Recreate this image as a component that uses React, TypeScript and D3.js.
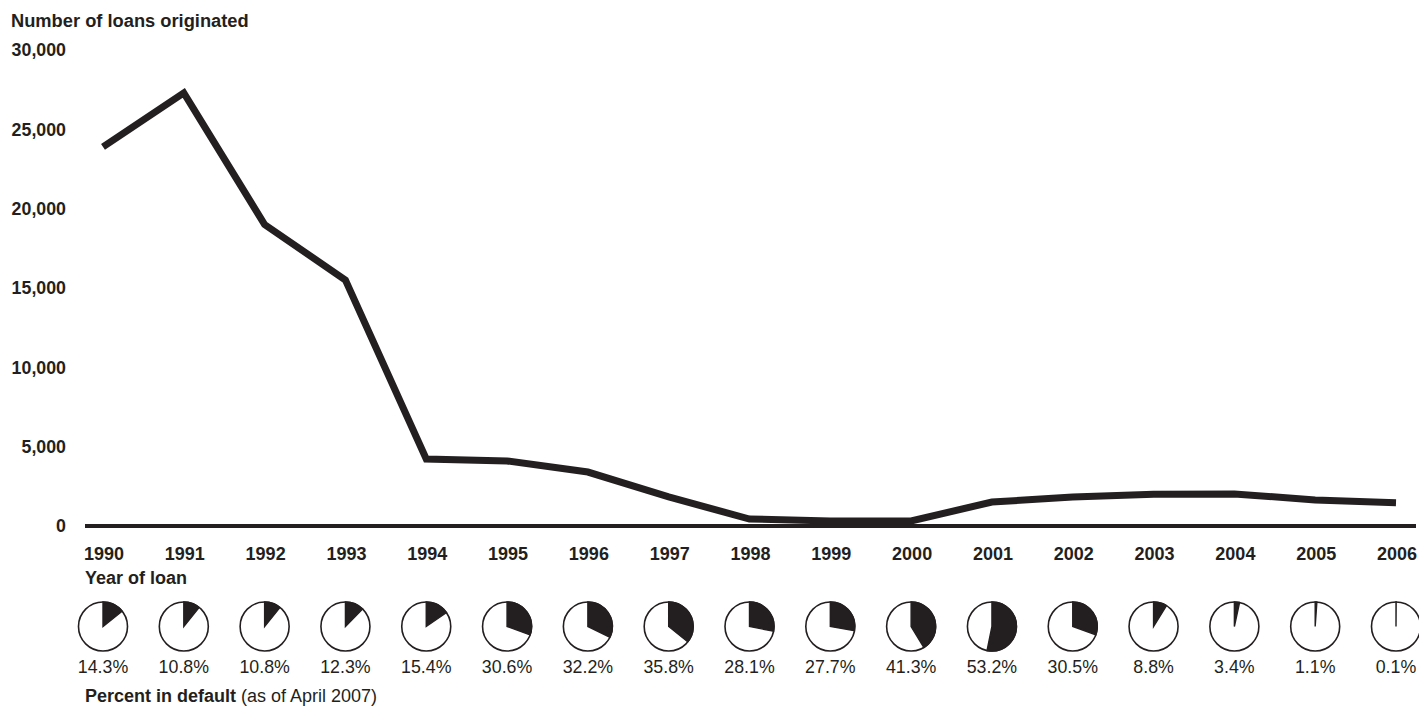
import React from "react";
import * as d3 from "d3";

const years = ["1990","1991","1992","1993","1994","1995","1996","1997","1998","1999","2000","2001","2002","2003","2004","2005","2006"];
const loans = [23900, 27300, 19000, 15500, 4220, 4100, 3400, 1830, 440, 320, 320, 1510, 1830, 2000, 2020, 1640, 1470];
const defaultPct = [14.3, 10.8, 10.8, 12.3, 15.4, 30.6, 32.2, 35.8, 28.1, 27.7, 41.3, 53.2, 30.5, 8.8, 3.4, 1.1, 0.1];
const yTicks = [0, 5000, 10000, 15000, 20000, 25000, 30000];

const INK = "#231f20";
const FONT = "'Liberation Sans', Arial, Helvetica, sans-serif";

export default function App() {
  const W = 1419, H = 707;
  const x = d3.scalePoint<string>().domain(years).range([103, 1396]);
  const y = d3.scaleLinear().domain([0, 30000]).range([526, 50]);
  const line = d3.line<number>().x((_, i) => x(years[i])!).y(d => y(d));
  const fmt = d3.format(",");
  const R = 24.5;
  const pieY = 626.5;
  const arc = d3.arc<any>().innerRadius(0).outerRadius(R);

  return (
    <svg width={W} height={H} style={{ position: "absolute", left: 0, top: 0, background: "#fff" }} fontFamily={FONT}>
      <text x={11} y={27} fontSize={18.3} fontWeight="bold" fill={INK}>Number of loans originated</text>
      {yTicks.map(t => (
        <text key={t} x={66} y={y(t) + 6.3} textAnchor="end" fontSize={17.8} fontWeight="bold" fill={INK}>{fmt(t)}</text>
      ))}
      <line x1={85} x2={1416} y1={y(0)} y2={y(0)} stroke={INK} strokeWidth={4} />
      <path d={line(loans)!} fill="none" stroke={INK} strokeWidth={7} strokeLinejoin="miter" />
      {years.map(yr => (
        <text key={yr} x={x(yr)! + 1} y={560} textAnchor="middle" fontSize={18} fontWeight="bold" fill={INK}>{yr}</text>
      ))}
      <text x={85} y={584} fontSize={18} fontWeight="bold" fill={INK}>Year of loan</text>
      {years.map((yr, i) => (
        <g key={yr} transform={`translate(${x(yr)},${pieY})`}>
          <circle r={R} fill="#fff" stroke={INK} strokeWidth={1.6} />
          <path d={arc({ startAngle: 0, endAngle: 2 * Math.PI * defaultPct[i] / 100 })!} fill={INK} stroke={INK} strokeWidth={1.4} strokeLinejoin="miter" />
          <text y={46.5} textAnchor="middle" fontSize={17.8} fill={INK}>{defaultPct[i].toFixed(1)}%</text>
        </g>
      ))}
      <text x={85} y={702} fontSize={18} fill={INK}>
        <tspan fontWeight="bold">Percent in default</tspan>
        <tspan> (as of April 2007)</tspan>
      </text>
    </svg>
  );
}
